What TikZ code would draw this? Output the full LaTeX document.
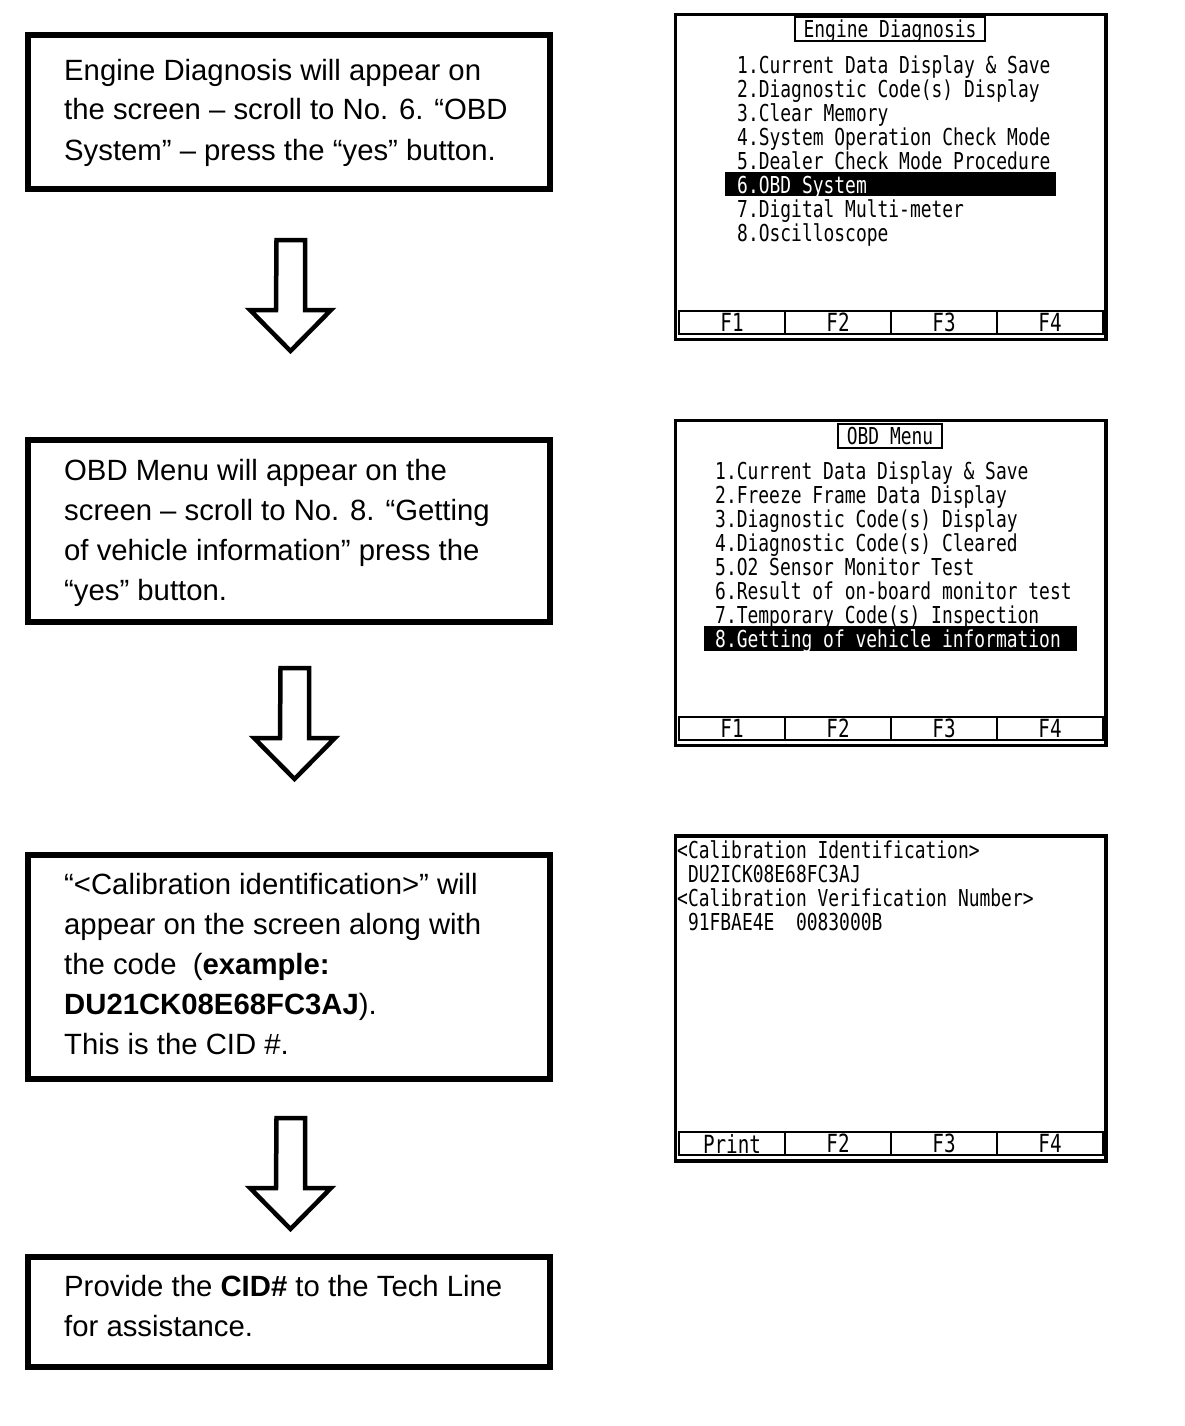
\documentclass[tikz,border=0pt]{standalone}
\usepackage{fontspec}
\setmainfont{Liberation Sans}
\newfontfamily\lcdfont[FakeStretch=0.77]{DejaVu Sans Mono}
\usepackage{tikz}

\begin{document}
\begin{tikzpicture}[x=1pt,y=-1pt,
    stepbox/.style={draw,line width=6pt,inner sep=0pt,outer sep=0pt},
    steptext/.style={anchor=base west,inner sep=0pt,align=left,font=\fontsize{29.3}{40}\selectfont},
    downarrow/.style={draw,line width=4.5pt,line join=miter,fill=white},
    screen/.style={draw,line width=3.5pt,minimum width=430.5pt,minimum height=325pt,inner sep=0pt,outer sep=0pt},
    fkey/.style={draw,line width=2pt,minimum width=106pt,minimum height=23pt,inner sep=0pt,outer sep=0pt,font=\lcdfont\fontsize{25}{25}\selectfont},
    menutitle/.style={draw,line width=2pt,inner xsep=9pt,inner ysep=1pt,outer sep=0pt,text height=19pt,text depth=3pt,font=\lcdfont\fontsize{23.3}{24}\selectfont},
    lcd/.style={anchor=base west,inner sep=0pt,align=left,font=\lcdfont\fontsize{23.3}{24}\selectfont}]

\useasboundingbox (0,0) rectangle (1184,1426);

\node[stepbox,minimum width=522pt,minimum height=154pt] (step1) at (289,112) {};
\node[stepbox,minimum width=522pt,minimum height=182pt] (step2) at (289,531) {};
\node[stepbox,minimum width=522pt,minimum height=224pt] (step3) at (289,967) {};
\node[stepbox,minimum width=522pt,minimum height=110pt] (step4) at (289,1312) {};

% text nodes sit on the baseline of their last line
\node[steptext] (text1) at (64,160) {Engine Diagnosis will appear on\\
  the screen – scroll to No. 6. “OBD\\
  System” – press the “yes” button.};
\node[steptext] (text2) at (64,600) {OBD Menu will appear on the\\
  screen – scroll to No. 8. “Getting\\
  of vehicle information” press the\\
  “yes” button.};
\node[steptext] (text3) at (64,1054) {“<Calibration identification>” will\\
  appear on the screen along with\\
  the code~~(\textbf{example:}\\
  \textbf{DU21CK08E68FC3AJ}).\\
  This is the CID \#.};
\node[steptext] (text4) at (64,1336) {Provide the \textbf{CID\#} to the Tech Line\\
  for assistance.};

\foreach \ax/\ay in {276.5/240,280.5/668,276.5/1118}
  \draw[downarrow] (\ax,\ay) -- ++(28.5,0) -- ++(0,70) -- ++(26,0)
    -- ++(-40.5,41) -- ++(-40.5,-41) -- ++(26,0) -- cycle;

\foreach \sy/\nm/\first in {14.5/scr1/F1,420.5/scr2/F1,836/scr3/Print}{
  \node[screen,anchor=north west] (\nm) at (675.5,\sy) {};
  \foreach \k/\lab in {1/\first,2/F2,3/F3,4/F4}
    \node[fkey,anchor=north west] (\nm-k\k) at (573+106*\k,\sy+296) {\lab};
}

\fill (725,172.3) rectangle (1056,195.7);
\node[menutitle] (head1) at (890,29.5) {Engine Diagnosis};
\node[lcd] (menu1) at (737,241.3) {1.Current Data Display \& Save\\
  2.Diagnostic Code(s) Display\\
  3.Clear Memory\\
  4.System Operation Check Mode\\
  5.Dealer Check Mode Procedure\\
  \textcolor{white}{6.OBD System}\\
  7.Digital Multi-meter\\
  8.Oscilloscope};

\fill (704,626) rectangle (1077,651);
\node[menutitle] (head2) at (890,436) {OBD Menu};
\node[lcd] (menu2) at (715,647) {1.Current Data Display \& Save\\
  2.Freeze Frame Data Display\\
  3.Diagnostic Code(s) Display\\
  4.Diagnostic Code(s) Cleared\\
  5.O2 Sensor Monitor Test\\
  6.Result of on-board monitor test\\
  7.Temporary Code(s) Inspection\\
  \textcolor{white}{8.Getting of vehicle information}};

\node[lcd] (calib) at (677,930) {<Calibration Identification>\\
  ~DU2ICK08E68FC3AJ\\
  <Calibration Verification Number>\\
  ~91FBAE4E~~0083000B};
\end{tikzpicture}
\end{document}
